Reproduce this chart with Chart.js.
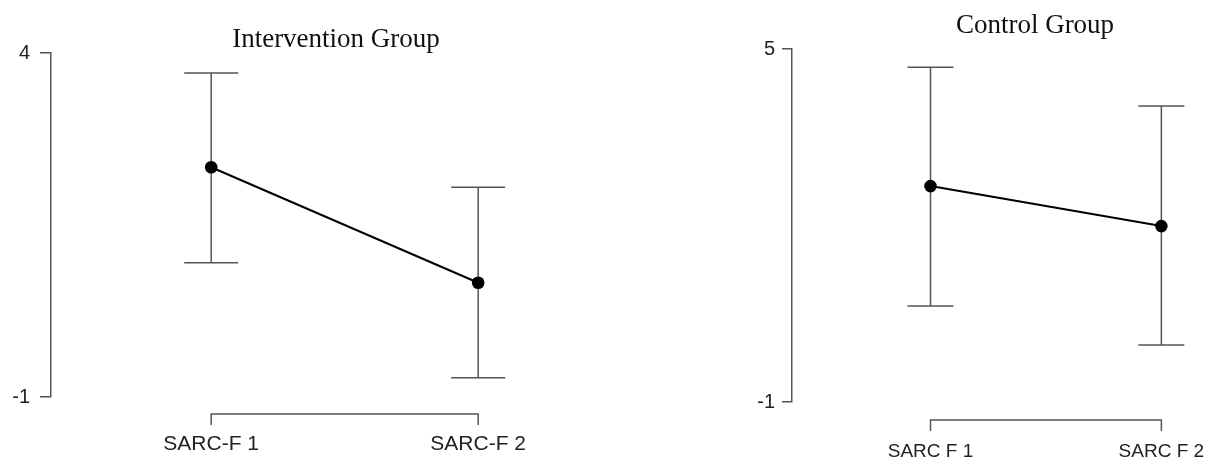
<!DOCTYPE html>
<html>
<head>
<meta charset="utf-8">
<title>SARC-F by group</title>
<script src="https://cdn.jsdelivr.net/npm/chart.js@4.4.1/dist/chart.umd.min.js"></script>
<style>
  body { margin: 0; background: #fff; }
  #wrap { position: relative; width: 1215px; height: 459px; overflow: hidden; }
  canvas { position: absolute; top: 0; }
  #interventionChart { left: 0; }
  #controlChart { left: 600px; }
</style>
</head>
<body>
<div id="wrap">
  <canvas id="interventionChart" width="600" height="459"></canvas>
  <canvas id="controlChart" width="660" height="459"></canvas>
</div>
<script>
// values: mean and the two ends of each error bar
const interventionLabels = ['SARC-F 1', 'SARC-F 2'];
const interventionMean = [2.34, 0.66];
const interventionLower = [0.95, -0.72];
const interventionUpper = [3.71, 2.05];
const interventionTicks = [-1, 4];

const controlLabels = ['SARC F 1', 'SARC F 2'];
const controlMean = [2.67, 1.99];
const controlLower = [0.63, -0.03];
const controlUpper = [4.69, 4.03];
const controlTicks = [-1, 5];

const AXIS_GREY = '#555';

// vertical bars with caps, drawn under the line and points
const errorBarPlugin = {
    id: 'errorBars',
    beforeDatasetsDraw(chart, args, opts) {
        const ctx = chart.ctx;
        const xs = chart.scales.x;
        const ys = chart.scales.y;
        ctx.save();
        ctx.strokeStyle = opts.color;
        ctx.lineWidth = opts.width;
        opts.lower.forEach((lo, i) => {
            const px = xs.getPixelForValue(i + 1);
            const top = ys.getPixelForValue(opts.upper[i]);
            const bot = ys.getPixelForValue(lo);
            ctx.beginPath();
            ctx.moveTo(px, top); ctx.lineTo(px, bot);
            ctx.moveTo(px - opts.cap, top); ctx.lineTo(px + opts.cap, top);
            ctx.moveTo(px - opts.cap, bot); ctx.lineTo(px + opts.cap, bot);
            ctx.stroke();
        });
        ctx.restore();
    }
};

// R style x axis: a bracket from first to last tick, set below the plot
const bracketPlugin = {
    id: 'xBracket',
    afterDraw(chart, args, opts) {
        const ctx = chart.ctx;
        const xs = chart.scales.x;
        const x1 = xs.getPixelForValue(xs.ticks[0].value);
        const x2 = xs.getPixelForValue(xs.ticks[xs.ticks.length - 1].value);
        const y0 = chart.chartArea.bottom + opts.offset;
        ctx.save();
        ctx.strokeStyle = AXIS_GREY;
        ctx.lineWidth = 1.5;
        ctx.beginPath();
        ctx.moveTo(x1, y0 + opts.tick);
        ctx.lineTo(x1, y0);
        ctx.lineTo(x2, y0);
        ctx.lineTo(x2, y0 + opts.tick);
        ctx.stroke();
        ctx.restore();
    }
};

// serif panel title placed over the plot
const panelTitlePlugin = {
    id: 'panelTitle',
    afterDraw(chart, args, opts) {
        const ctx = chart.ctx;
        ctx.save();
        ctx.font = '27px "Liberation Serif", "Times New Roman", serif';
        ctx.fillStyle = '#111';
        ctx.textAlign = 'center';
        ctx.textBaseline = 'alphabetic';
        ctx.fillText(opts.text, opts.x, opts.y);
        ctx.restore();
    }
};

function makePanel(canvasId, p) {
    const ctx = document.getElementById(canvasId).getContext('2d');
    const points = p.mean.map((v, i) => ({ x: i + 1, y: v }));

    return new Chart(ctx, {
        type: 'line',
        data: {
            datasets: [{
                data: points,
                borderColor: '#000',
                borderWidth: 2,
                backgroundColor: '#000',
                pointRadius: 6.3,
                pointBorderWidth: 0,
                pointBackgroundColor: '#000',
                tension: 0
            }]
        },
        options: {
            responsive: false,
            animation: false,
            events: [],
            layout: { padding: { top: p.top, right: p.right, left: 0, bottom: 0 } },
            plugins: {
                legend: { display: false },
                tooltip: { enabled: false },
                errorBars: { lower: p.lower, upper: p.upper, cap: p.cap, color: AXIS_GREY, width: 1.5 },
                xBracket: { offset: p.bracketOffset, tick: 11 },
                panelTitle: { text: p.title, x: p.titleX, y: p.titleY }
            },
            scales: {
                x: {
                    type: 'linear',
                    min: 0.4,
                    max: 2.4,
                    afterBuildTicks: scale => { scale.ticks = p.labels.map((l, i) => ({ value: i + 1 })); },
                    afterFit: scale => { scale.height = p.xHeight; },
                    grid: { display: false, drawTicks: false },
                    border: { display: false },
                    ticks: {
                        autoSkip: false,
                        maxRotation: 0,
                        padding: p.labelPad,
                        color: '#222',
                        font: { family: '"Liberation Sans", Arial, sans-serif', size: p.labelSize },
                        callback: (value, index) => p.labels[index]
                    }
                },
                y: {
                    min: p.ticks[0],
                    max: p.ticks[p.ticks.length - 1],
                    afterBuildTicks: scale => { scale.ticks = p.ticks.map(v => ({ value: v })); },
                    afterFit: scale => { scale.width = p.yWidth; },
                    grid: { drawOnChartArea: false, drawTicks: true, tickLength: p.tickLen, color: AXIS_GREY, lineWidth: 1.5 },
                    border: { display: true, color: AXIS_GREY, width: 1.5 },
                    ticks: {
                        padding: p.tickPad,
                        color: '#222',
                        font: { family: '"Liberation Sans", Arial, sans-serif', size: 20 }
                    }
                }
            }
        },
        plugins: [errorBarPlugin, bracketPlugin, panelTitlePlugin]
    });
}

makePanel('interventionChart', {
    title: 'Intervention Group', titleX: 336, titleY: 47,
    labels: interventionLabels, mean: interventionMean,
    lower: interventionLower, upper: interventionUpper, ticks: interventionTicks,
    top: 53, right: 15, xHeight: 62, yWidth: 51,
    tickLen: 11, tickPad: 10, cap: 27,
    bracketOffset: 17, labelPad: 35, labelSize: 21
});

// canvas runs past the window edge so the two x positions land where they do in the figure
makePanel('controlChart', {
    title: 'Control Group', titleX: 435, titleY: 33,
    labels: controlLabels, mean: controlMean,
    lower: controlLower, upper: controlUpper, ticks: controlTicks,
    top: 49, right: 4, xHeight: 57, yWidth: 192,
    tickLen: 10, tickPad: 7, cap: 23,
    bracketOffset: 18, labelPad: 38, labelSize: 19
});
</script>
</body>
</html>
